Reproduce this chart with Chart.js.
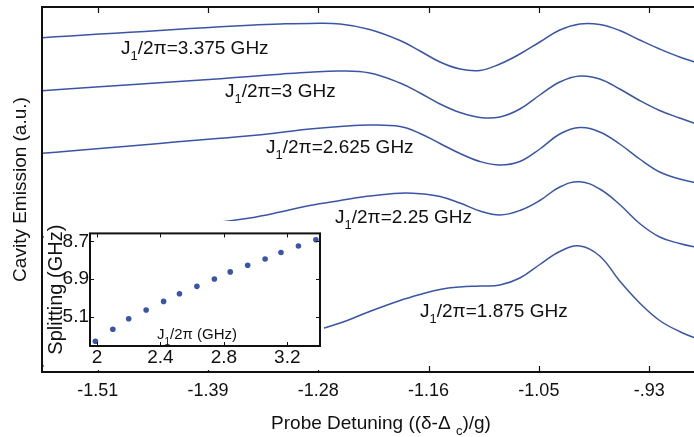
<!DOCTYPE html>
<html>
<head>
<meta charset="utf-8">
<script src="https://cdn.jsdelivr.net/npm/chart.js@4"></script>
<style>
  html, body { margin: 0; padding: 0; background: #fff; }
  #wrap { position: relative; width: 694px; height: 437px; overflow: hidden; }
  #main { position: absolute; left: 0; top: 0; }
  #inset { position: absolute; left: 44px; top: 221px; }
</style>
</head>
<body>
<div id="wrap">
  <canvas id="main" width="730" height="437"></canvas>
  <canvas id="inset" width="280" height="149"></canvas>
</div>
<script>
// probe detuning ((delta - Delta_c)/g)
const detuning = [-1.569, -1.539, -1.508, -1.476, -1.445, -1.413, -1.381, -1.350, -1.318, -1.287,
  -1.255, -1.224, -1.192, -1.171, -1.150, -1.129, -1.108, -1.087, -1.066, -1.045,
  -1.024, -1.003, -0.982, -0.961, -0.940, -0.919, -0.898, -0.877, -0.856];

// cavity emission (a.u., curves stacked)
const emission3375 = [334.3, 336, 337.9, 339.7, 341.5, 343.4, 345.2, 346.8, 348, 348.6, 348, 342.5, 331.5, 321, 310,
  303, 301.5, 308, 318, 330, 342, 348, 347.5, 341.5, 332, 323, 315, 308.5, 303];
const emission3000 = [281.3, 283.2, 285.2, 287.2, 289.2, 291.3, 293.3, 295.5, 297.8, 299.8, 301, 299, 289, 279, 268,
  259.5, 254.5, 255, 263, 277, 290, 296, 293, 283, 271.5, 261.5, 254, 247, 241.5];
const emission2625 = [218.7, 221, 223.5, 226, 228.6, 231.2, 233.7, 236.2, 239.5, 243, 245.5, 247, 245.5, 238.5, 228.5,
  218.5, 210.5, 207, 210.5, 223, 238, 244.5, 240, 228, 213, 200, 193, 188.5, 185];
const emission2250 = [135, 136.5, 138.5, 140.5, 143, 146, 150, 154, 160, 166.5, 171.5, 176, 178.8, 178.3, 175.5,
  169, 161, 157, 161.5, 171.5, 185, 190.3, 183, 167.5, 148.5, 135, 128.5, 124, 120];
const emission1875 = [6, 7.5, 9.5, 12, 15, 19, 23.5, 28, 33.5, 40, 49, 60.5, 71.5, 77.5, 82.5,
  85, 86, 87, 94, 107.5, 120.5, 126, 116, 91, 69, 51.5, 40.5, 32.5, 26];

const couplings = ['3.375', '3', '2.625', '2.25', '1.875'];
const xTickValues = [-1.51, -1.394, -1.278, -1.162, -1.046, -0.93];
const xTickLabels = ['-1.51', '-1.39', '-1.28', '-1.16', '-1.05', '-.93'];

// inset: splitting vs J1/2pi
const insetJ = [1.99, 2.10, 2.20, 2.31, 2.42, 2.52, 2.63, 2.74, 2.84, 2.95, 3.06, 3.16, 3.27, 3.38];
const insetSplitting = [3.93, 4.50, 5.00, 5.42, 5.83, 6.20, 6.55, 6.90, 7.24, 7.56, 7.86, 8.17, 8.48, 8.78];
const insetXTicks = [2, 2.4, 2.8, 3.2];
const insetXLabels = ['2', '2.4', '2.8', '3.2'];
const insetYTicks = [5.1, 6.9, 8.7];
const insetYLabels = ['5.1', '6.9', '8.7'];

// where the curve labels sit (data coords)
const labelAnchors = [[-1.4855, 325.3], [-1.3761, 282], [-1.333, 226.3], [-1.2604, 156.3], [-1.171, 62]];

const FONT = '"Liberation Sans", Arial, sans-serif';
const BLUE = '#3a55a6';
const INK = '#111';

function drawSubText(ctx, x, y, parts, size) {
  // parts: [text, isSub]
  parts.forEach(([txt, sub]) => {
    ctx.font = (sub ? Math.round(size * 0.68) : size) + 'px ' + FONT;
    ctx.fillText(txt, x, sub ? y + 6 : y);
    x += ctx.measureText(txt).width;
  });
}
function subTextWidth(ctx, parts, size) {
  let w = 0;
  parts.forEach(([txt, sub]) => {
    ctx.font = (sub ? Math.round(size * 0.68) : size) + 'px ' + FONT;
    w += ctx.measureText(txt).width;
  });
  return w;
}

const mainDeco = {
  id: 'mainDeco',
  afterDraw(chart) {
    const {ctx, chartArea: a, scales} = chart;
    ctx.save();
    ctx.strokeStyle = INK;
    ctx.lineWidth = 2;
    ctx.strokeRect(a.left, a.top, a.right - a.left, a.bottom - a.top);
    ctx.lineWidth = 1.2;
    xTickValues.forEach((v) => {
      const px = Math.round(scales.x.getPixelForValue(v)) + 0.5;
      ctx.beginPath();
      ctx.moveTo(px, a.top); ctx.lineTo(px, a.top + 6);
      ctx.moveTo(px, a.bottom); ctx.lineTo(px, a.bottom - 6);
      ctx.stroke();
    });
    // curve labels
    ctx.fillStyle = INK;
    ctx.textBaseline = 'alphabetic';
    ctx.textAlign = 'left';
    couplings.forEach((c, i) => {
      const x = scales.x.getPixelForValue(labelAnchors[i][0]);
      const y = scales.y.getPixelForValue(labelAnchors[i][1]) + 7;
      drawSubText(ctx, x, y, [['J', false], ['1', true], ['/2\u03c0=' + c + ' GHz', false]], 19);
    });
    // x axis title
    const parts = [['Probe Detuning ((\u03b4-\u0394 ', false], ['c', true], [')/g)', false]];
    const w = subTextWidth(ctx, parts, 19);
    drawSubText(ctx, (a.left + a.right) / 2 - w / 2, 429, parts, 19);
    ctx.restore();
  }
};

const toXY = (ys) => ys.map((y, i) => ({x: detuning[i], y}));
const series = [emission3375, emission3000, emission2625, emission2250, emission1875];

new Chart(document.getElementById('main'), {
  type: 'line',
  data: {
    datasets: series.map((s, i) => ({
      label: couplings[i],
      data: toXY(s),
      borderColor: BLUE,
      borderWidth: 1.5,
      pointRadius: 0,
      tension: 0.4,
      fill: false,
    })),
  },
  options: {
    responsive: false,
    animation: false,
    layout: {padding: {top: 7, right: 10, left: 0, bottom: 0}},
    plugins: {legend: {display: false}, tooltip: {enabled: false}},
    scales: {
      x: {
        type: 'linear',
        min: -1.5686,
        max: -0.8555,
        afterFit: (s) => { s.height = 65; },
        afterBuildTicks: (s) => { s.ticks = xTickValues.map((v) => ({value: v})); },
        grid: {display: false, drawTicks: false},
        border: {display: false},
        ticks: {
          color: INK,
          padding: 8,
          maxRotation: 0,
          font: {family: FONT, size: 18},
          callback: (v, i) => xTickLabels[i],
        },
      },
      y: {
        min: 0,
        max: 365,
        afterFit: (s) => { s.width = 42; },
        grid: {display: false, drawTicks: false},
        border: {display: false},
        ticks: {display: false},
        title: {
          display: true,
          text: 'Cavity Emission (a.u.)',
          color: INK,
          font: {family: FONT, size: 19},
          padding: {top: 9, bottom: 0},
        },
      },
    },
  },
  plugins: [mainDeco],
});

const insetDeco = {
  id: 'insetDeco',
  beforeDraw(chart) {
    const {ctx, width, height} = chart;
    ctx.save();
    ctx.fillStyle = '#fff';
    ctx.fillRect(0, 0, width, height);
    ctx.restore();
  },
  afterDraw(chart) {
    const {ctx, chartArea: a, scales} = chart;
    ctx.save();
    ctx.strokeStyle = INK;
    ctx.lineWidth = 2;
    ctx.strokeRect(a.left, a.top, a.right - a.left, a.bottom - a.top);
    ctx.lineWidth = 1;
    insetXTicks.forEach((v) => {
      const px = Math.round(scales.x.getPixelForValue(v)) + 0.5;
      ctx.beginPath();
      ctx.moveTo(px, a.top); ctx.lineTo(px, a.top + 4);
      ctx.moveTo(px, a.bottom); ctx.lineTo(px, a.bottom - 4);
      ctx.stroke();
    });
    insetYTicks.forEach((v) => {
      const py = Math.round(scales.y.getPixelForValue(v)) + 0.5;
      ctx.beginPath();
      ctx.moveTo(a.left, py); ctx.lineTo(a.left + 4, py);
      ctx.moveTo(a.right, py); ctx.lineTo(a.right - 4, py);
      ctx.stroke();
    });
    ctx.fillStyle = INK;
    ctx.textBaseline = 'alphabetic';
    const parts = [['J', false], ['1', true], ['/2\u03c0 (GHz)', false]];
    const w = subTextWidth(ctx, parts, 15);
    drawSubText(ctx, 153 - w / 2, 118, parts, 15);
    ctx.restore();
  }
};

new Chart(document.getElementById('inset'), {
  type: 'scatter',
  data: {
    datasets: [{
      data: insetJ.map((x, i) => ({x, y: insetSplitting[i]})),
      backgroundColor: BLUE,
      borderColor: BLUE,
      pointRadius: 2.8,
      pointBorderWidth: 0,
    }],
  },
  options: {
    responsive: false,
    animation: false,
    layout: {padding: {top: 2, right: 2, left: 0, bottom: 0}},
    plugins: {legend: {display: false}, tooltip: {enabled: false}},
    scales: {
      x: {
        type: 'linear',
        min: 1.956,
        max: 3.406,
        afterFit: (s) => { s.height = 24; },
        afterBuildTicks: (s) => { s.ticks = insetXTicks.map((v) => ({value: v})); },
        grid: {display: false, drawTicks: false},
        border: {display: false},
        ticks: {
          color: INK, padding: 0, maxRotation: 0, font: {family: FONT, size: 19},
          callback: (v, i) => insetXLabels[i],
        },
      },
      y: {
        min: 3.70,
        max: 9.08,
        afterFit: (s) => { s.width = 46; },
        afterBuildTicks: (s) => { s.ticks = insetYTicks.map((v) => ({value: v})); },
        grid: {display: false, drawTicks: false},
        border: {display: false},
        ticks: {
          color: INK, padding: 1, font: {family: FONT, size: 19},
          callback: (v, i) => insetYLabels[i],
        },
        title: {
          display: true,
          text: 'Splitting (GHz)',
          color: INK,
          font: {family: FONT, size: 20},
          padding: {top: 0, bottom: 0},
        },
      },
    },
  },
  plugins: [insetDeco],
});
</script>
</body>
</html>
